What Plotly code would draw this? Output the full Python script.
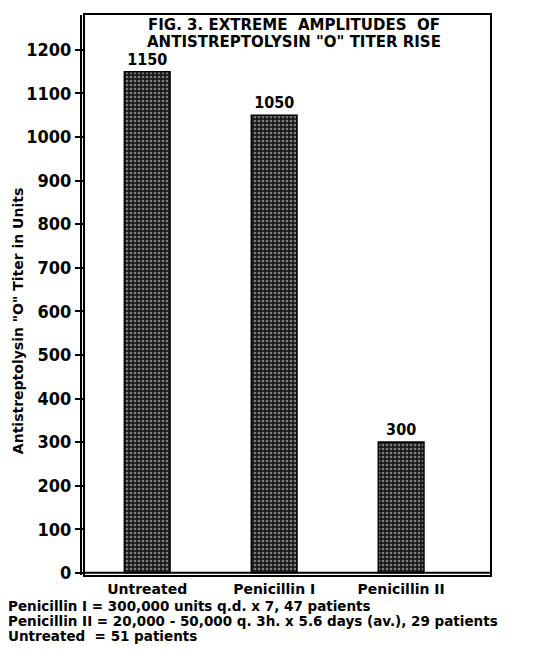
import plotly.graph_objects as go

categories = ["Untreated", "Penicillin I", "Penicillin II"]
titer_values = [1150, 1050, 300]
y_ticks = [0, 100, 200, 300, 400, 500, 600, 700, 800, 900, 1000, 1100, 1200]
title_lines = ["FIG. 3. EXTREME  AMPLITUDES  OF", "ANTISTREPTOLYSIN \"O\" TITER RISE"]
y_title = "Antistreptolysin \"O\" Titer in Units"
footnotes = [
    "Penicillin I = 300,000 units q.d. x 7, 47 patients",
    "Penicillin II = 20,000 - 50,000 q. 3h. x 5.6 days (av.), 29 patients",
    "Untreated  = 51 patients",
]

FONT = "DejaVu Sans"
xpos = list(range(len(categories)))

fig = go.Figure()
fig.add_trace(go.Bar(
    x=xpos, y=titer_values, width=0.36,
    marker=dict(color="#1a1a1a", line=dict(color="black", width=1.5),
                pattern=dict(shape=".", fgcolor="#dddddd", size=4, solidity=0.35, fillmode="overlay")),
    text=["<b>%d</b>" % v for v in titer_values], textposition="outside",
    textfont=dict(family="DejaVu Sans Condensed", size=16, color="black"),
    cliponaxis=False,
))

fig.update_layout(
    width=541, height=658,
    margin=dict(l=85, r=51, t=15, b=83, autoexpand=False),
    paper_bgcolor="white", plot_bgcolor="white",
    showlegend=False,
    font=dict(family=FONT, color="black"),
    xaxis=dict(range=[-0.49, 2.7], tickvals=xpos, ticktext=["<b>%s</b>" % c for c in categories],
               showline=True, linecolor="black", linewidth=2, mirror=True, ticks="",
               showgrid=False, zeroline=False, tickfont=dict(size=14, family=FONT), automargin=False),
    yaxis=dict(range=[-5, 1280], tickvals=y_ticks, ticktext=["<b>%d</b>" % v for v in y_ticks],
               showline=True, linecolor="black", linewidth=2, mirror=True,
               ticks="outside", ticklen=8, tickwidth=2, tickcolor="black",
               showgrid=False, zeroline=False, tickfont=dict(size=18, family="DejaVu Sans Condensed"),
               automargin=False),
)

# double axis lines
fig.add_shape(type="line", xref="paper", yref="paper", x0=-0.00985, x1=-0.00985, y0=0, y1=1.0,
              line=dict(color="black", width=2))
fig.add_shape(type="line", xref="paper", yref="y", x0=0, x1=1, y0=0, y1=0,
              line=dict(color="black", width=2))

for i, line in enumerate(title_lines):
    fig.add_annotation(xref="paper", yref="paper", x=0.515, y=0.982 - i * 0.0305,
                       text="<b>%s</b>" % line, showarrow=False,
                       font=dict(size=15, family=FONT), xanchor="center", yanchor="middle")

fig.add_annotation(xref="paper", yref="paper", x=-0.165, y=0.4536, xanchor="center", yanchor="middle",
                   text="<b>%s</b>" % y_title, textangle=-90, showarrow=False,
                   font=dict(size=14, family=FONT))

for i, line in enumerate(footnotes):
    fig.add_annotation(xref="paper", yref="paper", x=-0.1946, y=-0.0554 - i * 0.0272, xanchor="left", yanchor="middle",
                       text="<b>%s</b>" % line, showarrow=False, font=dict(size=13.5, family=FONT))

fig.write_html("out.html", config={"displayModeBar": False},
               post_script="document.body.style.margin='0';")
